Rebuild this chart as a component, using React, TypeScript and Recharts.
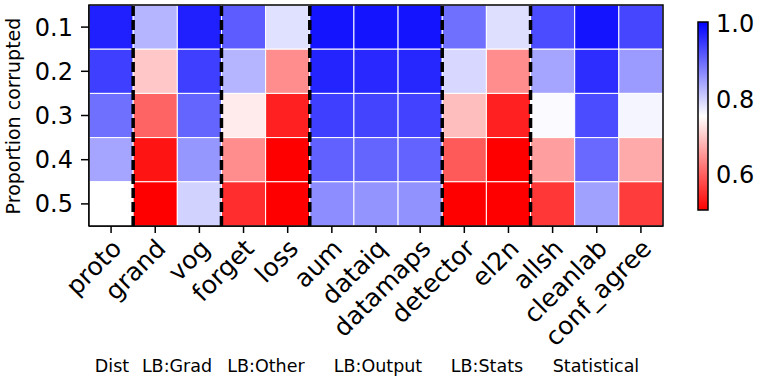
import React from "react";
import {
  ScatterChart,
  Scatter,
  XAxis,
  YAxis,
  ReferenceLine,
  ReferenceArea,
  BarChart,
} from "recharts";

const methods = [
  "proto", "grand", "vog", "forget", "loss", "aum", "dataiq", "datamaps",
  "detector", "el2n", "allsh", "cleanlab", "conf_agree",
];
const proportions = ["0.1", "0.2", "0.3", "0.4", "0.5"];

const row01 = [0.974, 0.829, 0.974, 0.915, 0.785, 0.985, 0.985, 0.985, 0.895, 0.787, 0.931, 0.985, 0.936];
const row02 = [0.943, 0.700, 0.943, 0.829, 0.643, 0.970, 0.966, 0.968, 0.794, 0.643, 0.843, 0.961, 0.853];
const row03 = [0.895, 0.603, 0.907, 0.735, 0.537, 0.943, 0.938, 0.940, 0.691, 0.537, 0.760, 0.931, 0.765];
const row04 = [0.843, 0.525, 0.858, 0.643, 0.500, 0.910, 0.907, 0.908, 0.593, 0.500, 0.660, 0.902, 0.672];
const row05 = [0.755, 0.500, 0.799, 0.549, 0.490, 0.867, 0.860, 0.862, 0.495, 0.490, 0.559, 0.848, 0.564];
const rows = [row01, row02, row03, row04, row05];

// group separators (between column indices)
const separators = [0.5, 2.5, 4.5, 7.5, 9.5];
const groupLabels = ["Dist", "LB:Grad", "LB:Other", "LB:Output", "LB:Stats", "Statistical"];
const groupCenters = [112, 177, 266, 378, 487, 596];

const colorbarTicks = [0.6, 0.8, 1.0];
const VMIN = 0.505;
const VMAX = 1.005;

const FONT = "DejaVu Sans";

const cells = rows.flatMap((r, ri) => r.map((v, ci) => ({ x: ci, y: ri, v })));

function bwrR(v: number): string {
  let t = (v - VMIN) / (VMAX - VMIN);
  t = Math.max(0, Math.min(1, t));
  if (t < 0.5) {
    const c = Math.round(510 * t);
    return `rgb(255,${c},${c})`;
  }
  const c = Math.round(255 * (2 - 2 * t));
  return `rgb(${c},${c},255)`;
}

const PLOT_W = 574;
const PLOT_H = 221;
const CW = PLOT_W / methods.length;
const CH = PLOT_H / proportions.length;

const CellShape = (props: any) => {
  const { cx, cy, payload } = props;
  return (
    <rect
      x={cx - CW / 2}
      y={cy - CH / 2}
      width={CW}
      height={CH}
      fill={bwrR(payload.v)}
      stroke="#ffffff"
      strokeWidth={1}
    />
  );
};

const XTick = (props: any) => {
  const { x, y, payload } = props;
  const ax = x + 12;
  const ay = y + 15;
  return (
    <text
      x={ax}
      y={ay}
      textAnchor="end"
      fontSize={25}
      fontFamily={FONT}
      fill="#000"
      transform={`rotate(-45, ${ax}, ${ay})`}
    >
      {methods[payload.value]}
    </text>
  );
};

const YTick = (props: any) => {
  const { x, y, payload } = props;
  return (
    <text x={x} y={y} dy={8.5} textAnchor="end" fontSize={24} fontFamily={FONT} fill="#000">
      {proportions[payload.value]}
    </text>
  );
};

export default function App() {
  return (
    <div style={{ position: "absolute", left: 0, top: 0, width: 762, height: 382, background: "#fff" }}>
      <div style={{ position: "absolute", left: 0, top: 0 }}>
        <ScatterChart width={762} height={382} margin={{ top: 5, right: 99, bottom: 0, left: 0 }}>
          <XAxis
            type="number"
            dataKey="x"
            domain={[-0.5, 12.5]}
            ticks={methods.map((_, i) => i)}
            interval={0}
            allowDataOverflow
            height={156}
            tick={<XTick />}
            tickSize={7}
            tickLine={{ stroke: "#000", strokeWidth: 1.5 }}
            axisLine={{ stroke: "#000", strokeWidth: 1.5 }}
          />
          <YAxis
            type="number"
            dataKey="y"
            domain={[-0.5, 4.5]}
            reversed
            ticks={proportions.map((_, i) => i)}
            interval={0}
            allowDataOverflow
            width={89}
            tick={<YTick />}
            tickSize={8}
            tickMargin={8}
            tickLine={{ stroke: "#000", strokeWidth: 1.5 }}
            axisLine={{ stroke: "#000", strokeWidth: 1.5 }}
          />
          <Scatter data={cells} shape={<CellShape />} isAnimationActive={false} />
          {separators.map((s) => (
            <ReferenceLine
              key={s}
              x={s}
              stroke="#000"
              strokeWidth={3.5}
              strokeDasharray="10 4"
              zIndex={2000}
              {...({ isFront: true } as any)}
            />
          ))}
          <ReferenceArea
            x1={-0.5}
            x2={12.5}
            y1={-0.5}
            y2={4.5}
            fill="none"
            fillOpacity={0}
            stroke="#000"
            strokeWidth={1.5}
            strokeOpacity={1}
            zIndex={2100}
            {...({ isFront: true } as any)}
          />
        </ScatterChart>
      </div>
      <div style={{ position: "absolute", left: 690, top: 0 }}>
        <BarChart width={72} height={382} data={[{ v: 1 }]} margin={{ top: 22, right: 0, bottom: 172, left: 8 }}>
          <defs>
            <linearGradient id="cbar" x1="0" y1="0" x2="0" y2="1">
              <stop offset="0%" stopColor="rgb(0,0,255)" />
              <stop offset="50%" stopColor="rgb(255,255,255)" />
              <stop offset="100%" stopColor="rgb(255,0,0)" />
            </linearGradient>
          </defs>
          <XAxis type="category" hide />
          <YAxis
            orientation="right"
            type="number"
            domain={[VMIN, VMAX]}
            ticks={colorbarTicks}
            allowDataOverflow
            width={54}
            axisLine={false}
            tickLine={false}
            tickSize={4}
            tickMargin={4}
            tickFormatter={(v: number) => v.toFixed(1)}
            tick={{ fontSize: 24, fontFamily: FONT, fill: "#000" }}
          />
          <ReferenceArea
            y1={VMIN}
            y2={VMAX}
            fill="url(#cbar)"
            fillOpacity={1}
            stroke="#000"
            strokeWidth={1.5}
            strokeOpacity={1}
          />
        </BarChart>
      </div>
      <svg style={{ position: "absolute", left: 0, top: 0 }} width={762} height={382}>
        <text
          x={20}
          y={116}
          textAnchor="middle"
          fontSize={19}
          fontFamily={FONT}
          fill="#000"
          transform="rotate(-90, 20, 116)"
        >
          Proportion corrupted
        </text>
        {groupLabels.map((g, i) => (
          <text
            key={g}
            x={groupCenters[i]}
            y={372}
            textAnchor="middle"
            fontSize={17.5}
            fontFamily={FONT}
            fill="#000"
          >
            {g}
          </text>
        ))}
      </svg>
    </div>
  );
}
